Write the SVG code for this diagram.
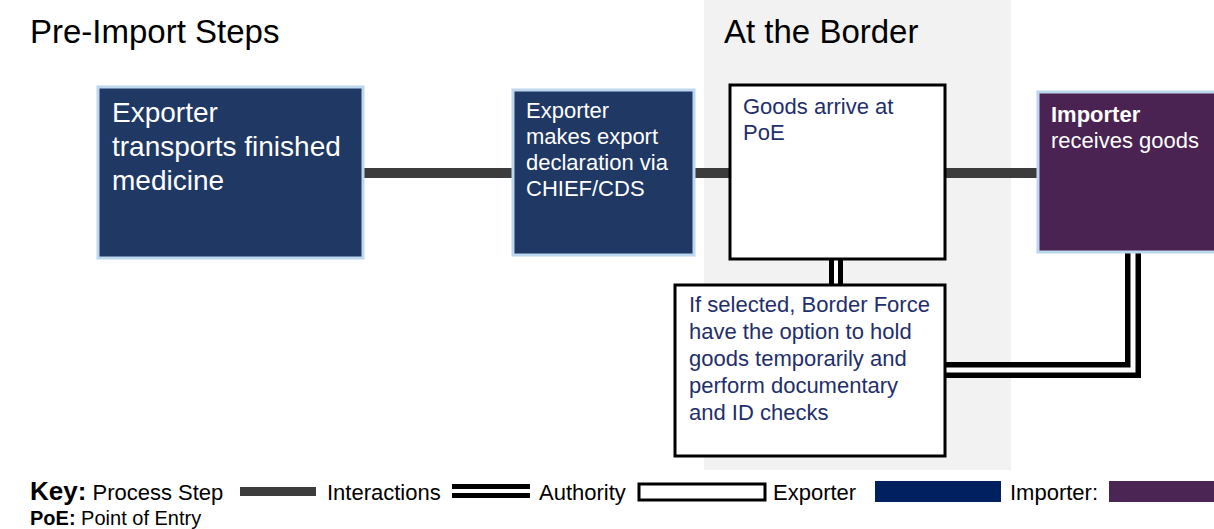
<svg xmlns="http://www.w3.org/2000/svg" width="1214" height="529" viewBox="0 0 1214 529">
<style>
text{font-family:"Liberation Sans",Arial,sans-serif}
.title{font-size:33px;fill:#000}
.exp{fill:#203864;stroke:#bdd7ee;stroke-width:3}
.imp{fill:#4a2352;stroke:#bdd7ee;stroke-width:3}
.auth{fill:#fff;stroke:#000;stroke-width:3}
.wt{fill:#fff}
.nt{fill:#1f2f6b}
.proc{stroke:#3c3c3c;stroke-width:10;fill:none}
.dbl{stroke:#000;stroke-width:16;fill:none}
.dblin{stroke:#fff;stroke-width:5;fill:none}
.key{font-size:22px;fill:#000}
</style>
<rect x="704" y="0" width="307" height="470" fill="#f2f2f2"/>
<text class="title" x="30" y="43">Pre-Import Steps</text>
<text class="title" x="724" y="43">At the Border</text>
<g id="connectors">
<line class="proc" x1="362" y1="173" x2="512" y2="173"/>
<line class="proc" x1="695" y1="173" x2="729" y2="173"/>
<line class="proc" x1="946" y1="173" x2="1037" y2="173"/>
<line class="dbl" x1="836" y1="260" x2="836" y2="285" style="stroke-width:14"/>
<line class="dblin" x1="836" y1="260" x2="836" y2="285" style="stroke-width:4"/>
<path class="dbl" d="M945 370 H1133 V253"/>
<path class="dblin" d="M945 370 H1133 V253"/>
</g>
<g id="n1">
<rect class="exp" x="98" y="87" width="265" height="171"/>
<text class="wt" font-size="28"><tspan x="112" y="122">Exporter</tspan><tspan x="112" y="156">transports finished</tspan><tspan x="112" y="190">medicine</tspan></text>
</g>
<g id="n2">
<rect class="exp" x="513" y="90" width="181" height="165"/>
<text class="wt" font-size="22"><tspan x="526" y="118">Exporter</tspan><tspan x="526" y="144">makes export</tspan><tspan x="526" y="170">declaration via</tspan><tspan x="526" y="196">CHIEF/CDS</tspan></text>
</g>
<g id="n3">
<rect class="auth" x="730" y="85" width="215" height="174"/>
<text class="nt" font-size="22"><tspan x="743" y="114">Goods arrive at</tspan><tspan x="743" y="140">PoE</tspan></text>
</g>
<g id="n4">
<rect class="imp" x="1038" y="92" width="190" height="160"/>
<text class="wt" font-size="22"><tspan x="1051" y="122" font-weight="bold">Importer</tspan><tspan x="1051" y="148">receives goods</tspan></text>
</g>
<g id="n5">
<rect class="auth" x="675" y="285" width="270" height="171"/>
<text class="nt" font-size="22"><tspan x="689" y="312">If selected, Border Force</tspan><tspan x="689" y="339">have the option to hold</tspan><tspan x="689" y="366">goods temporarily and</tspan><tspan x="689" y="393">perform documentary</tspan><tspan x="689" y="420">and ID checks</tspan></text>
</g>
<g id="key">
<text class="key" x="30" y="500"><tspan font-weight="bold" font-size="26">Key:</tspan> Process Step</text>
<rect x="240" y="487" width="76" height="9" fill="#3c3c3c"/>
<text class="key" x="327" y="500">Interactions</text>
<rect x="452" y="484" width="78" height="5" fill="#000"/>
<rect x="452" y="493" width="78" height="5" fill="#000"/>
<text class="key" x="539" y="500">Authority</text>
<rect x="639" y="484" width="126" height="16" fill="#fff" stroke="#000" stroke-width="3"/>
<text class="key" x="773" y="500">Exporter</text>
<rect x="875" y="481" width="126" height="21" fill="#002060"/>
<text class="key" x="1010" y="500">Importer:</text>
<rect x="1109" y="481" width="105" height="21" fill="#4b2553"/>
<text font-size="20" x="30" y="525"><tspan font-weight="bold">PoE:</tspan> Point of Entry</text>
</g>
</svg>
